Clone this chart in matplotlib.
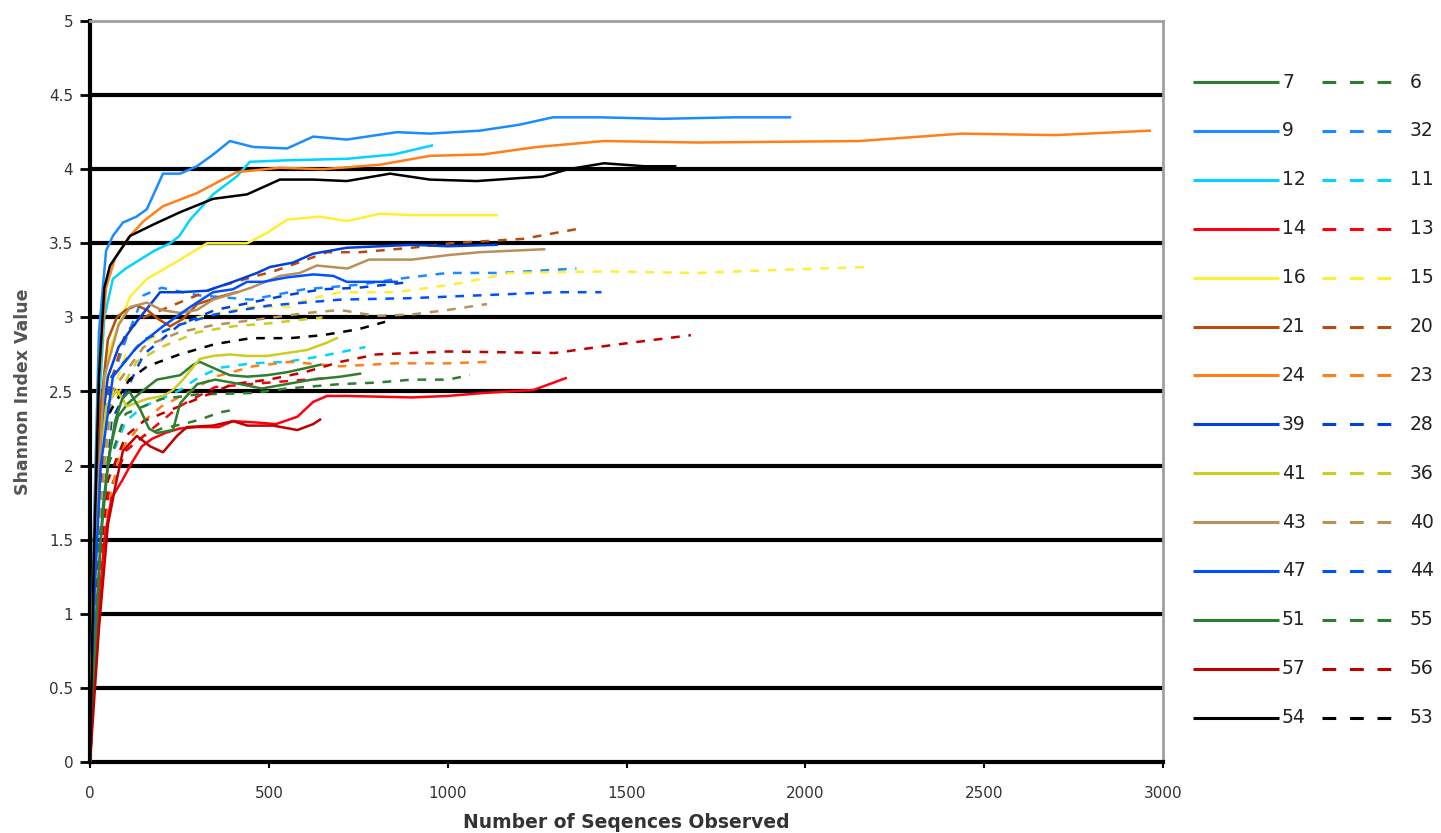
import numpy as np
import matplotlib.pyplot as plt

plt.rcParams["font.family"] = "DejaVu Sans"

# ---- data (x = sequences observed, y = Shannon index) ----
x_7 = [0, 15, 35, 55, 78, 106, 145, 187, 252, 288, 307, 344, 391, 439, 495, 551, 607, 643]
y_7 = [0, 0.9, 1.7, 2.1, 2.33, 2.42, 2.5, 2.58, 2.61, 2.68, 2.7, 2.66, 2.61, 2.6, 2.61, 2.63, 2.66, 2.68]
x_9 = [0, 10, 25, 45, 64, 92, 130, 159, 204, 252, 299, 345, 391, 456, 551, 624, 718, 858, 950, 1090, 1200, 1294, 1426, 1600, 1800, 1957]
y_9 = [0, 1.5, 2.9, 3.45, 3.55, 3.64, 3.68, 3.73, 3.97, 3.97, 4.02, 4.1, 4.19, 4.15, 4.14, 4.22, 4.2, 4.25, 4.24, 4.26, 4.3, 4.35, 4.35, 4.34, 4.35, 4.35]
x_12 = [0, 10, 25, 40, 64, 100, 140, 180, 224, 250, 280, 344, 410, 447, 550, 718, 850, 956]
y_12 = [0, 1.2, 2.4, 3.0, 3.26, 3.33, 3.39, 3.45, 3.5, 3.55, 3.66, 3.83, 3.95, 4.05, 4.06, 4.07, 4.1, 4.16]
x_14 = [0, 20, 40, 60, 90, 117, 145, 173, 210, 250, 300, 360, 400, 470, 520, 580, 624, 663, 720, 900, 1000, 1100, 1240, 1330]
y_14 = [0, 0.9, 1.5, 1.78, 1.9, 2.02, 2.13, 2.18, 2.22, 2.25, 2.26, 2.26, 2.3, 2.29, 2.28, 2.33, 2.43, 2.47, 2.47, 2.46, 2.47, 2.49, 2.51, 2.59]
x_16 = [0, 10, 25, 50, 80, 112, 159, 252, 327, 439, 495, 551, 643, 718, 811, 900, 1000, 1137]
y_16 = [0, 1.2, 2.2, 2.75, 2.95, 3.14, 3.26, 3.39, 3.5, 3.5, 3.57, 3.66, 3.68, 3.65, 3.7, 3.69, 3.69, 3.69]
x_21 = [0, 12, 30, 50, 75, 100, 130, 160, 190, 224, 260, 300, 364, 410]
y_21 = [0, 1.4, 2.4, 2.85, 3.0, 3.05, 3.08, 3.05, 2.99, 2.94, 2.99, 3.09, 3.14, 3.17]
x_24 = [0, 10, 25, 45, 70, 112, 150, 204, 300, 410, 530, 650, 810, 950, 1100, 1250, 1437, 1700, 2150, 2435, 2700, 2963]
y_24 = [0, 1.3, 2.6, 3.2, 3.4, 3.55, 3.65, 3.75, 3.84, 3.98, 4.01, 4.0, 4.03, 4.09, 4.1, 4.15, 4.19, 4.18, 4.19, 4.24, 4.23, 4.26]
x_39 = [0, 12, 30, 50, 80, 120, 196, 252, 327, 400, 467, 503, 568, 624, 718, 903, 1000, 1137]
y_39 = [0, 1.2, 2.2, 2.6, 2.8, 2.94, 3.17, 3.17, 3.18, 3.24, 3.3, 3.34, 3.37, 3.43, 3.47, 3.49, 3.48, 3.49]
x_41 = [0, 10, 25, 45, 75, 103, 159, 204, 232, 260, 307, 344, 391, 439, 495, 551, 607, 663, 690]
y_41 = [0, 1.0, 1.9, 2.4, 2.51, 2.4, 2.45, 2.47, 2.51, 2.58, 2.72, 2.74, 2.75, 2.74, 2.74, 2.76, 2.78, 2.83, 2.86]
x_43 = [0, 15, 40, 80, 112, 159, 200, 252, 299, 344, 400, 450, 531, 587, 634, 720, 780, 900, 1000, 1090, 1270]
y_43 = [0, 1.5, 2.6, 2.95, 3.07, 3.1, 3.05, 3.03, 3.05, 3.12, 3.16, 3.2, 3.28, 3.3, 3.35, 3.33, 3.39, 3.39, 3.42, 3.44, 3.46]
x_47 = [0, 12, 30, 64, 131, 204, 280, 344, 400, 439, 484, 551, 624, 680, 718, 858]
y_47 = [0, 1.1, 2.0, 2.6, 2.8, 2.94, 3.07, 3.17, 3.19, 3.24, 3.24, 3.27, 3.29, 3.28, 3.24, 3.24]
x_51 = [0, 15, 30, 50, 70, 90, 110, 140, 165, 187, 232, 252, 300, 350, 420, 480, 550, 620, 700, 755]
y_51 = [0, 0.8, 1.5, 2.0, 2.3, 2.45, 2.5, 2.38, 2.25, 2.22, 2.24, 2.42, 2.55, 2.58, 2.55, 2.52, 2.55, 2.58, 2.6, 2.62]
x_57 = [0, 25, 50, 70, 92, 131, 168, 204, 243, 271, 344, 400, 440, 512, 580, 624, 643]
y_57 = [0, 0.9, 1.6, 1.85, 2.1, 2.2, 2.13, 2.09, 2.2, 2.26, 2.27, 2.3, 2.27, 2.27, 2.24, 2.28, 2.31]
x_54 = [0, 10, 25, 40, 56, 112, 180, 252, 344, 439, 531, 624, 718, 839, 950, 1081, 1200, 1266, 1337, 1437, 1550, 1636]
y_54 = [0, 1.3, 2.6, 3.2, 3.35, 3.55, 3.63, 3.71, 3.8, 3.83, 3.93, 3.93, 3.92, 3.97, 3.93, 3.92, 3.94, 3.95, 4.0, 4.04, 4.02, 4.02]

x_6 = [0, 20, 50, 100, 150, 200, 260, 307, 364, 411]
y_6 = [0, 1.1, 1.8, 2.1, 2.2, 2.25, 2.28, 2.31, 2.36, 2.38]
x_32 = [0, 20, 50, 100, 150, 200, 300, 450, 600, 750, 860, 1000, 1150, 1360]
y_32 = [0, 1.5, 2.5, 2.85, 3.15, 3.2, 3.15, 3.12, 3.19, 3.22, 3.26, 3.3, 3.3, 3.33]
x_11 = [0, 20, 50, 100, 150, 200, 252, 307, 363, 450, 550, 650, 770]
y_11 = [0, 1.2, 2.0, 2.3, 2.4, 2.45, 2.51, 2.6, 2.66, 2.69, 2.7, 2.74, 2.8]
x_13 = [0, 20, 50, 100, 150, 200, 250, 350, 450, 550, 663]
y_13 = [0, 1.0, 1.8, 2.1, 2.2, 2.3, 2.4, 2.53, 2.55, 2.57, 2.59]
x_15 = [0, 20, 50, 100, 200, 300, 447, 560, 606, 700, 858, 1006, 1054, 1174, 1450, 1700, 1920, 2170]
y_15 = [0, 1.5, 2.4, 2.75, 2.9, 3.0, 3.07, 3.07, 3.12, 3.17, 3.17, 3.22, 3.24, 3.3, 3.31, 3.3, 3.32, 3.34]
x_20 = [0, 20, 50, 100, 150, 250, 350, 450, 512, 560, 663, 755, 900, 1007, 1211, 1370]
y_20 = [0, 1.5, 2.5, 2.9, 3.0, 3.1, 3.2, 3.27, 3.31, 3.35, 3.44, 3.44, 3.47, 3.5, 3.53, 3.6]
x_23 = [0, 20, 50, 84, 150, 200, 280, 350, 456, 560, 700, 850, 1000, 1110]
y_23 = [0, 1.0, 1.7, 2.1, 2.3, 2.4, 2.5, 2.6, 2.67, 2.7, 2.67, 2.69, 2.69, 2.7]
x_28 = [0, 20, 60, 150, 250, 350, 450, 550, 650, 750, 900]
y_28 = [0, 1.4, 2.3, 2.75, 2.95, 3.05, 3.1, 3.15, 3.19, 3.2, 3.24]
x_36 = [0, 20, 60, 130, 200, 300, 400, 500, 650]
y_36 = [0, 1.5, 2.4, 2.7, 2.8, 2.9, 2.94, 2.96, 3.0]
x_40 = [0, 20, 60, 150, 250, 350, 450, 606, 700, 800, 900, 1000, 1110]
y_40 = [0, 1.5, 2.5, 2.8, 2.9, 2.95, 2.98, 3.03, 3.05, 3.01, 3.02, 3.05, 3.09]
x_44 = [0, 20, 60, 150, 250, 350, 500, 700, 900, 1100, 1300, 1430]
y_44 = [0, 1.8, 2.6, 2.85, 2.95, 3.02, 3.08, 3.12, 3.13, 3.15, 3.17, 3.17]
x_55 = [0, 20, 50, 100, 200, 300, 456, 550, 700, 800, 900, 1000, 1062]
y_55 = [0, 1.3, 2.0, 2.35, 2.45, 2.48, 2.49, 2.52, 2.55, 2.56, 2.58, 2.58, 2.61]
x_56 = [0, 20, 50, 100, 150, 200, 300, 400, 500, 600, 700, 800, 1000, 1300, 1450, 1680]
y_56 = [0, 1.2, 1.9, 2.2, 2.3, 2.35, 2.45, 2.55, 2.58, 2.63, 2.7, 2.75, 2.77, 2.76, 2.81, 2.88]
x_53 = [0, 15, 40, 110, 160, 250, 350, 450, 560, 650, 750, 825]
y_53 = [0, 1.5, 2.3, 2.58, 2.67, 2.75, 2.82, 2.86, 2.86, 2.88, 2.92, 2.97]

solid_labels = ['7', '9', '12', '14', '16', '21', '24', '39', '41', '43', '47', '51', '57', '54']
dashed_labels = ['6', '32', '11', '13', '15', '20', '23', '28', '36', '40', '44', '55', '56', '53']
colors = ['#2f7d2f', '#1a8cff', '#00d4ff', '#ff0010', '#ffee33', '#b84c0c', '#ff7f1a',
          '#0040dd', '#cccc22', '#b8905a', '#0050ff', '#2f7d2f', '#c00000', '#000000']

solid = [(x_7, y_7), (x_9, y_9), (x_12, y_12), (x_14, y_14), (x_16, y_16), (x_21, y_21), (x_24, y_24),
         (x_39, y_39), (x_41, y_41), (x_43, y_43), (x_47, y_47), (x_51, y_51), (x_57, y_57), (x_54, y_54)]
dashed = [(x_6, y_6), (x_32, y_32), (x_11, y_11), (x_13, y_13), (x_15, y_15), (x_20, y_20), (x_23, y_23),
          (x_28, y_28), (x_36, y_36), (x_40, y_40), (x_44, y_44), (x_55, y_55), (x_56, y_56), (x_53, y_53)]

y_ticks = [0, 0.5, 1, 1.5, 2, 2.5, 3, 3.5, 4, 4.5, 5]
y_ticklabels = ['0', '0.5', '1', '1.5', '2', '2.5', '3', '3.5', '4', '4.5', '5']
x_ticks = [0, 500, 1000, 1500, 2000, 2500, 3000]

W, H = 1441, 833
fig = plt.figure(figsize=(W / 100, H / 100), dpi=100)
ax = fig.add_axes([90 / W, 1 - 762 / H, (1163 - 90) / W, (762 - 21) / H])

for yt in y_ticks[1:-1]:
    ax.axhline(yt, color='black', lw=3, zorder=1)

for i in range(len(solid)):
    ax.plot(dashed[i][0], dashed[i][1], color=colors[i], lw=1.8, dashes=(3.5, 3.5), zorder=2)
for i in range(len(solid)):
    ax.plot(solid[i][0], solid[i][1], color=colors[i], lw=1.8, zorder=3)

ax.set_xlim(0, 3000)
ax.set_ylim(0, 5)
ax.set_yticks(y_ticks)
ax.set_yticklabels(y_ticklabels)
ax.set_xticks(x_ticks)
ax.tick_params(axis='y', direction='out', length=7, width=2, labelsize=11, labelcolor='#333333', pad=5)
ax.tick_params(axis='x', direction='out', length=4, width=1.5, labelsize=11, labelcolor='#333333', pad=13)
for s in ['top', 'right']:
    ax.spines[s].set_color('#a0a0a0')
    ax.spines[s].set_linewidth(2)
ax.spines['left'].set_linewidth(3)
ax.spines['bottom'].set_linewidth(3)

ax.set_xlabel('Number of Seqences Observed', fontsize=13.5, fontweight='bold', color='#333333', labelpad=9)
fig.text(23 / W, 1 - 392 / H, 'Shannon Index Value', rotation=90, fontsize=12.5, fontweight='bold',
         color='#555555', ha='center', va='center')

# legend drawn in pixel space on the right
lg = fig.add_axes([1180 / W, 0, (W - 1180) / W, 1])
lg.set_xlim(1180, W)
lg.set_ylim(H, 0)
lg.axis('off')
row0, step = 82, 48.9
for i in range(len(solid_labels)):
    yy = row0 + i * step
    lg.plot([1193, 1279], [yy, yy], color=colors[i], lw=2.2, solid_capstyle='butt')
    lg.text(1282, yy, solid_labels[i], fontsize=13.5, va='center', ha='left', color='#222222')
    lg.plot([1322, 1404], [yy, yy], color=colors[i], lw=2.2, dashes=(4.5, 4.5), dash_capstyle='butt')
    lg.text(1410, yy, dashed_labels[i], fontsize=13.5, va='center', ha='left', color='#222222')

fig.savefig('out.png', dpi=100)
